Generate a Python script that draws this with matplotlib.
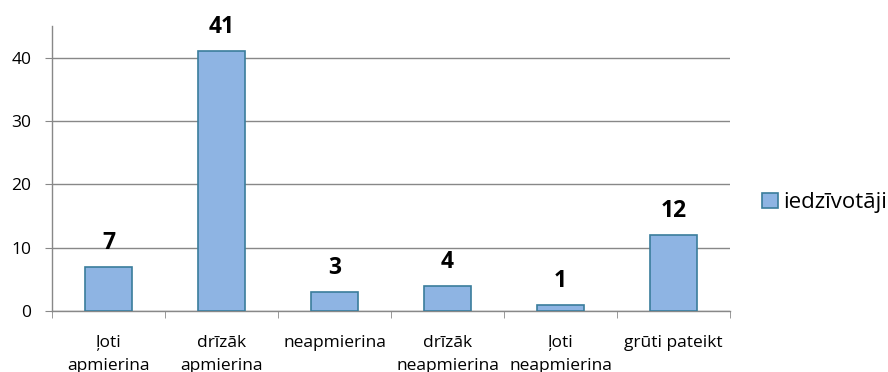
import matplotlib
matplotlib.use("Agg")
import matplotlib.pyplot as plt
import numpy as np

categories = ["ļoti\napmierina", "drīzāk\napmierina", "neapmierina",
              "drīzāk\nneapmierina", "ļoti\nneapmierina", "grūti pateikt"]
values = [7, 41, 3, 4, 1, 12]
series_name = "iedzīvotāji"
yticks = [0, 10, 20, 30, 40]

plt.rcParams['font.family'] = ['Open Sans', 'DejaVu Sans']

fig = plt.figure(figsize=(8.88, 3.72), dpi=100)
ax = fig.add_axes([52 / 888, 61 / 372, (730 - 52) / 888, (311 - 26) / 372])

x = np.arange(len(categories))
bars = ax.bar(x, values, width=0.41, color='#8EB4E3', edgecolor='#3A7D9C',
              linewidth=1.2, zorder=3, label=series_name)

for xi, v in zip(x, values):
    ax.annotate(str(v), (xi, v), xytext=(0, 13), textcoords='offset points',
                ha='center', va='baseline', fontsize=16.5, fontweight='bold',
                color='black')

ax.set_xlim(-0.5, len(categories) - 0.5)
ax.set_ylim(0, 45)
ax.set_yticks(yticks)
ax.yaxis.grid(True, color='#888888', linewidth=1.0, zorder=0)
ax.tick_params(axis='y', length=5, color='#888888', labelsize=12.5, pad=10)

ax.set_xticks(x)
ax.set_xticklabels(categories, fontsize=12.5, linespacing=1.6)
ax.set_xticks(np.arange(-0.5, len(categories)), minor=True)
ax.tick_params(axis='x', which='major', length=0, pad=17)
ax.tick_params(axis='x', which='minor', length=5, color='#888888')

for s in ['top', 'right']:
    ax.spines[s].set_visible(False)
for s in ['left', 'bottom']:
    ax.spines[s].set_color('#888888')
    ax.spines[s].set_linewidth(1.0)

leg = fig.legend(handles=[bars], labels=[series_name], loc='center left',
                 bbox_to_anchor=(762 / 888, 1 - 203 / 372), frameon=False,
                 fontsize=16, handlelength=0.7, handleheight=0.7,
                 handletextpad=0.25, borderaxespad=0, borderpad=0)

fig.savefig("out.png", dpi=100)
